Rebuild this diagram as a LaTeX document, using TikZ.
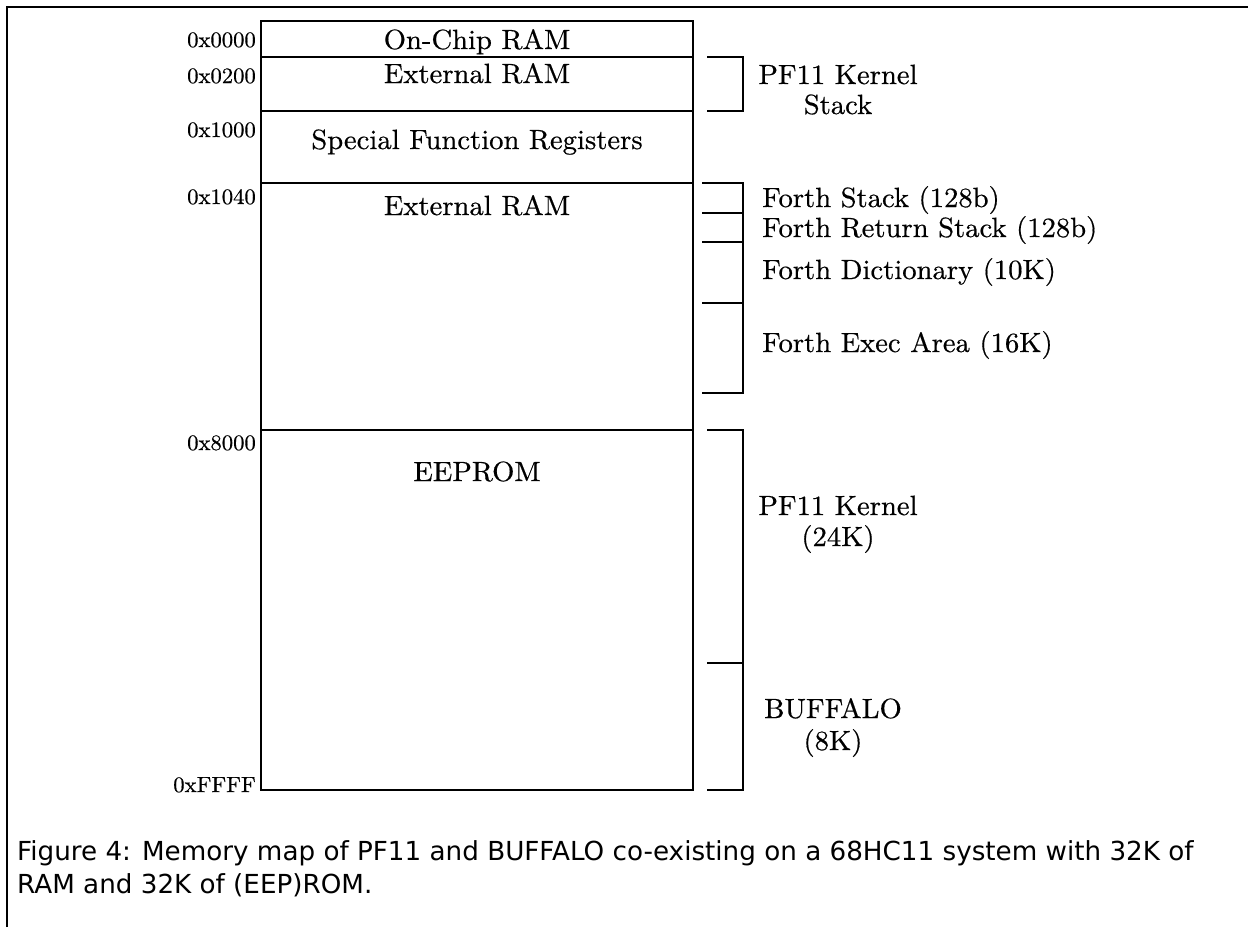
\documentclass[tikz,border=0pt]{standalone}
\usepackage{fontspec}
\setmainfont{lmroman10-regular.otf}[FakeStretch=1.03,FakeBold=0.5]
\newfontfamily\capfont{DejaVu Sans}
\begin{document}
\begin{tikzpicture}[x=1pt,y=-1pt,
  frame/.style={line width=1.8pt},
  mem/.style={line width=1.2pt},
  brk/.style={line width=1.2pt},
  lbl/.style={inner sep=0pt, anchor=base, font=\fontsize{27.8}{30}\selectfont},
  addr/.style={inner sep=0pt, anchor=base east, font=\fontsize{22}{24}\selectfont},
  side/.style={inner sep=0pt, anchor=base west, font=\fontsize{27.8}{30}\selectfont},
  sidec/.style={inner sep=0pt, anchor=base, font=\fontsize{27.8}{30}\selectfont},
  captext/.style={inner sep=0pt, anchor=base west, font=\capfont\fontsize{26.2}{30}\selectfont}]
\useasboundingbox (0,0) rectangle (1248,927);
% page frame
\coordinate (fbl) at (7,927);
\coordinate (ftl) at (7,7);
\coordinate (ftr) at (1248,7);
\draw[frame] (fbl) -- (ftl) -- (ftr);
% memory box
\coordinate (tl) at (261,21);
\coordinate (br) at (693,790);
\draw[mem] (tl) rectangle (br);
\foreach \y/\n in {57/a,111/b,183/c,430/d}{
  \coordinate (l\n) at (261,\y);
  \coordinate (r\n) at (693,\y);
  \draw[mem] (l\n) -- (r\n);
}
% region labels
\node[lbl] (onchip) at (477,49) {On-Chip RAM};
\node[lbl] (extram1) at (477,83) {External RAM};
\node[lbl] (sfr) at (477,149) {Special Function Registers};
\node[lbl] (extram2) at (477,215) {External RAM};
\node[lbl] (eeprom) at (477,481) {EEPROM};
% addresses
\node[addr] (a0000) at (256,47) {0x0000};
\node[addr] (a0200) at (256,83) {0x0200};
\node[addr] (a1000) at (256,137) {0x1000};
\node[addr] (a1040) at (256,204) {0x1040};
\node[addr] (a8000) at (256,450) {0x8000};
\node[addr] (affff) at (256,792) {0xFFFF};
% brackets
\draw[brk] (707,57) -- (743,57) -- (743,111) -- (707,111);
\draw[brk] (702,183) -- (743,183) -- (743,393) -- (702,393);
\foreach \y in {213,242,303}{\draw[brk] (702,\y) -- (743,\y);}
\draw[brk] (707,430) -- (743,430) -- (743,790) -- (707,790);
\draw[brk] (707,663) -- (743,663);
% side labels
\node[sidec] (kst1) at (838,84) {PF11 Kernel};
\node[sidec] (kst2) at (838,114) {Stack};
\node[side] (fs) at (762,207) {Forth Stack (128b)};
\node[side] (frs) at (762,237) {Forth Return Stack (128b)};
\node[side] (fd) at (762,279) {Forth Dictionary (10K)};
\node[side] (fe) at (762,352) {Forth Exec Area (16K)};
\node[sidec] (pk1) at (838,515) {PF11 Kernel};
\node[sidec] (pk2) at (838,546) {(24K)};
\node[sidec] (bf1) at (833,718) {BUFFALO};
\node[sidec] (bf2) at (833,750) {(8K)};
% caption
\node[captext] (cap1) at (17,860) {Figure 4: Memory map of PF11 and BUFFALO co-existing on a 68HC11 system with 32K of};
\node[captext] (cap2) at (17,893) {RAM and 32K of (EEP)ROM.};
\end{tikzpicture}
\end{document}
